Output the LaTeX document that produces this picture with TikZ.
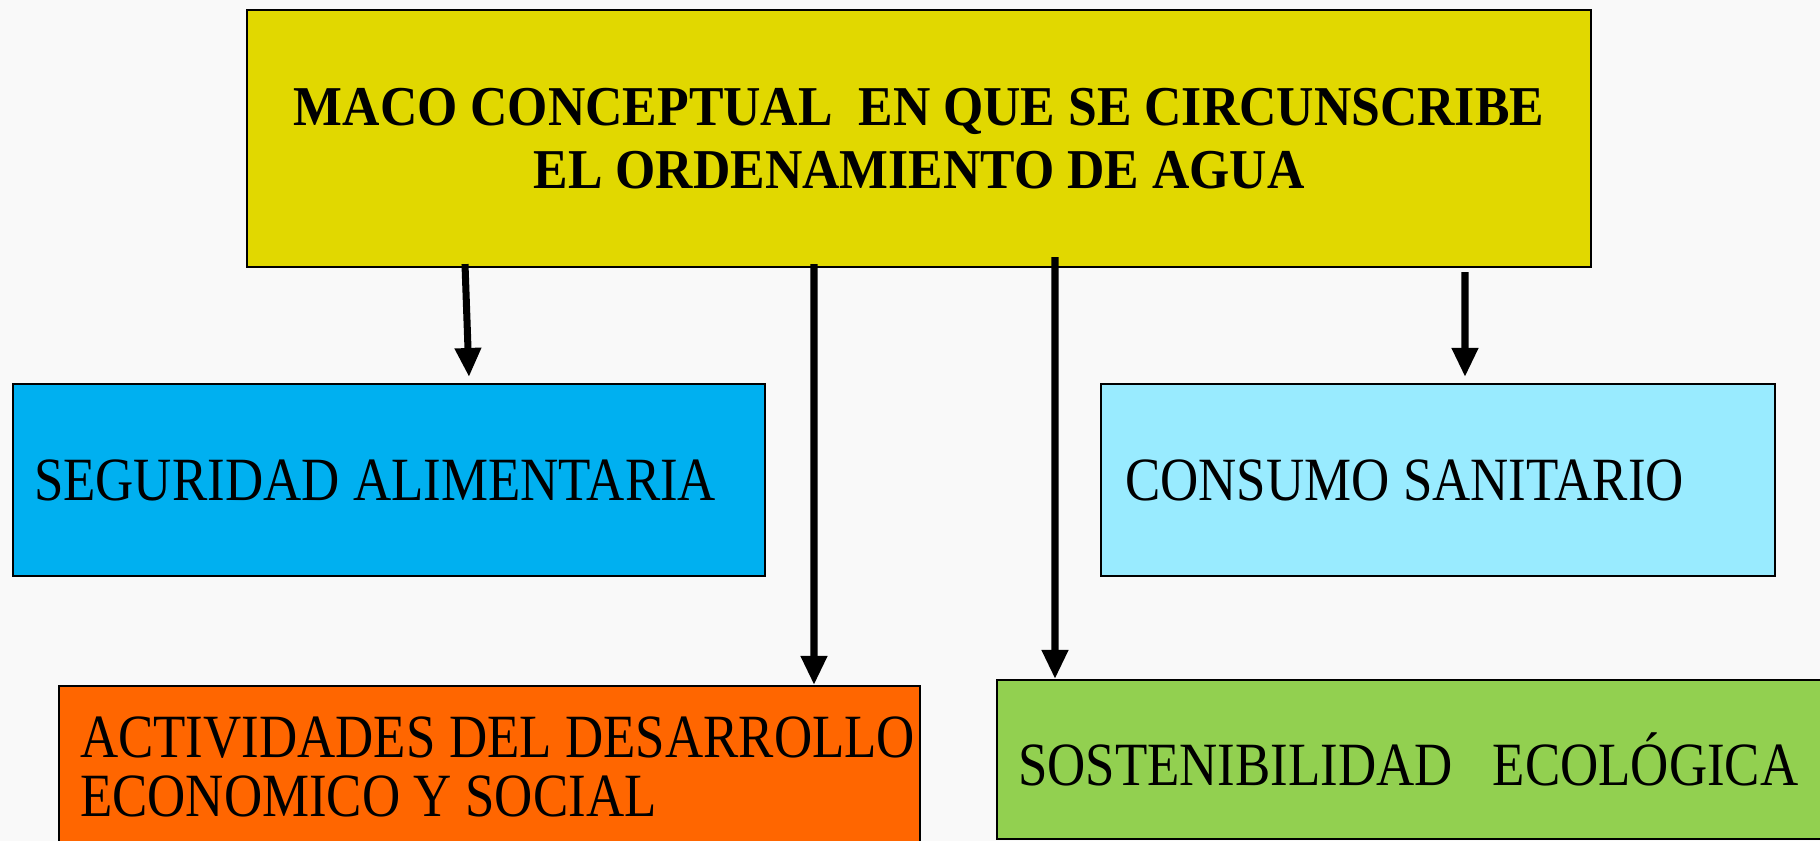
\documentclass[tikz,border=0pt]{standalone}
\usepackage{fontspec}
\usetikzlibrary{arrows.meta}
\newfontfamily\titlefont[FakeStretch=0.92]{Liberation Serif}
\newfontfamily\boxfont[FakeStretch=0.86]{Liberation Serif}
\definecolor{bgcol}{RGB}{249,249,249}
\definecolor{titlecol}{RGB}{225,216,0}
\definecolor{segcol}{RGB}{0,176,240}
\definecolor{conscol}{RGB}{153,235,255}
\definecolor{actcol}{RGB}{255,102,0}
\definecolor{sostcol}{RGB}{146,208,80}
\begin{document}
\begin{tikzpicture}[
  frame/.style={draw=black,line width=0.6pt,rectangle,anchor=north west,inner ysep=0pt},
  titlebox/.style={frame,align=center,font=\titlefont\bfseries\fontsize{16}{18.1}\selectfont},
  box/.style={frame,font=\boxfont\fontsize{17.5}{16.8}\selectfont,align=left,
    execute at begin node={\spaceskip=0.22em\relax}},
  arr/.style={line width=2pt,-{Triangle[width=0.25cm,length=0.29cm]}}]
\fill[bgcol] (0,0) rectangle (18.2,-8.41);
\useasboundingbox (0,0) rectangle (18.2,-8.41);

\node[titlebox,fill=titlecol,minimum width=13.44cm,minimum height=2.57cm] (title) at (2.46,-0.09)
  {MACO CONCEPTUAL\ \ EN QUE SE CIRCUNSCRIBE\\EL ORDENAMIENTO DE AGUA};

\node[box,fill=segcol,minimum width=7.52cm,minimum height=1.92cm,inner xsep=0.21cm,
  text width=7.10cm] (seg) at (0.12,-3.83) {SEGURIDAD ALIMENTARIA};
\node[box,fill=conscol,minimum width=6.74cm,minimum height=1.92cm,inner xsep=0.24cm,
  text width=6.26cm] (cons) at (11.00,-3.83) {CONSUMO SANITARIO};
\node[box,fill=actcol,minimum width=8.61cm,minimum height=1.62cm,inner xsep=0.21cm,
  text width=8.19cm] (act) at (0.58,-6.85) {\mbox{ACTIVIDADES DEL DESARROLLO}\\\mbox{ECONOMICO Y SOCIAL}};
\node[box,fill=sostcol,minimum width=8.40cm,minimum height=1.59cm,inner xsep=0.21cm,
  text width=7.98cm] (sost) at (9.96,-6.79) {\mbox{SOSTENIBILIDAD\hspace{0.4cm}ECOLÓGICA}};

\draw[arr] ([xshift=2.19cm,yshift=0.04cm]title.south west) -- ([xshift=4.57cm,yshift=0.06cm]seg.north west);
\draw[arr] ([xshift=5.68cm,yshift=0.04cm]title.south west) -- ([xshift=7.56cm]act.north west);
\draw[arr] ([xshift=8.09cm,yshift=0.11cm]title.south west) -- ([xshift=0.59cm]sost.north west);
\draw[arr] ([xshift=12.19cm,yshift=-0.04cm]title.south west) -- ([xshift=3.65cm,yshift=0.06cm]cons.north west);
\end{tikzpicture}
\end{document}
